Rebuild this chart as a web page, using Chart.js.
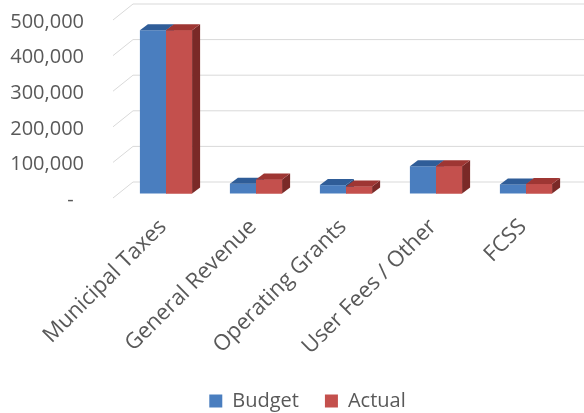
<!DOCTYPE html>
<html lang="en">
<head>
  <meta charset="UTF-8" />
  <title>Budget vs Actual</title>
  <script src="https://cdn.jsdelivr.net/npm/chart.js"></script>
  <style>
    html, body { margin: 0; padding: 0; background: #fff; }
  </style>
</head>
<body>
  <canvas id="revenueChart" width="584" height="413"></canvas>

  <script>
    const categories = ["Municipal Taxes", "General Revenue", "Operating Grants", "User Fees / Other", "FCSS"];
    const budget = [460000, 29000, 25000, 78000, 27000];
    const actual = [460000, 41000, 21000, 78000, 28000];
    const yTicks = [0, 100000, 200000, 300000, 400000, 500000];

    const DEPTH_X = 8, DEPTH_Y = 6;
    const faces = [
      { front: "#4a7ebf", top: "#2f5d98", side: "#294f80" },
      { front: "#c4504d", top: "#9e3633", side: "#7a2927" }
    ];

    // back wall + slanted side-wall gridlines
    const wallGrid = {
      id: "wallGrid",
      beforeDatasetsDraw(chart) {
        const ctx = chart.ctx;
        const y = chart.scales.y;
        const left = chart.chartArea.left;
        ctx.save();
        ctx.strokeStyle = "#d9d9d9";
        ctx.lineWidth = 1;
        y.ticks.forEach(t => {
          const py = y.getPixelForValue(t.value);
          ctx.beginPath();
          ctx.moveTo(left - 8, py + 4);
          ctx.lineTo(left + 12, py - 12);
          ctx.lineTo(chart.width, py - 12);
          ctx.stroke();
        });
        ctx.restore();
      }
    };

    // fake 3D: tops and sides for each bar
    const bar3d = {
      id: "bar3d",
      afterDatasetsDraw(chart) {
        const ctx = chart.ctx;
        const metas = chart.getSortedVisibleDatasetMetas();
        ctx.save();
        categories.forEach((c, i) => {
          metas.forEach((meta, d) => {
            const p = meta.data[i].getProps(["x", "y", "base", "width"], true);
            const l = p.x - p.width / 2, r = p.x + p.width / 2;
            if (d > 0) {
              ctx.fillStyle = faces[d].front;
              ctx.fillRect(l, p.y, p.width, p.base - p.y);
            }
            ctx.fillStyle = faces[d].side;
            ctx.beginPath();
            ctx.moveTo(r, p.y);
            ctx.lineTo(r + DEPTH_X, p.y - DEPTH_Y);
            ctx.lineTo(r + DEPTH_X, p.base - DEPTH_Y);
            ctx.lineTo(r, p.base);
            ctx.closePath();
            ctx.fill();
            ctx.fillStyle = faces[d].top;
            ctx.beginPath();
            ctx.moveTo(l, p.y);
            ctx.lineTo(l + DEPTH_X, p.y - DEPTH_Y);
            ctx.lineTo(r + DEPTH_X, p.y - DEPTH_Y);
            ctx.lineTo(r, p.y);
            ctx.closePath();
            ctx.fill();
          });
        });
        ctx.restore();
      }
    };

    // legend sits a little right of centre in the original
    const legendShift = {
      id: "legendShift",
      afterLayout(chart) {
        chart.legend.left += 22;
        chart.legend.right += 22;
      }
    };

    const font = { family: "'Open Sans', sans-serif", size: 20 };

    new Chart(document.getElementById("revenueChart"), {
      type: "bar",
      data: {
        labels: categories,
        datasets: [
          { label: "Budget", data: budget, backgroundColor: faces[0].front },
          { label: "Actual", data: actual, backgroundColor: faces[1].front }
        ]
      },
      options: {
        responsive: false,
        animation: false,
        layout: { padding: { left: 0, right: 13, top: 16, bottom: -8 } },
        categoryPercentage: 0.58,
        barPercentage: 1,
        plugins: {
          legend: {
            position: "bottom",
            labels: { color: "#595959", font: font, boxWidth: 13, boxHeight: 13, padding: 26 }
          },
          tooltip: { enabled: false }
        },
        scales: {
          x: {
            grid: { display: false },
            border: { display: false },
            ticks: {
              color: "#595959", font: { family: font.family, size: 22 }, autoSkip: false,
              maxRotation: 45, minRotation: 45, labelOffset: -3, padding: 12
            },
            afterFit(scale) { scale.height = 171; }
          },
          y: {
            min: 0, max: 500000,
            grid: { display: true, drawOnChartArea: false, drawTicks: true, tickLength: 37, color: "rgba(0,0,0,0)" },
            border: { display: false },
            afterBuildTicks(scale) { scale.ticks = yTicks.map(v => ({ value: v })); },
            ticks: {
              color: "#595959", font: font, padding: 0, labelOffset: 6,
              callback: v => v === 0 ? "-  " : v.toLocaleString("en-US")
            },
            afterFit(scale) { scale.width = 121; }
          }
        }
      },
      plugins: [wallGrid, bar3d, legendShift]
    });
  </script>
</body>
</html>
